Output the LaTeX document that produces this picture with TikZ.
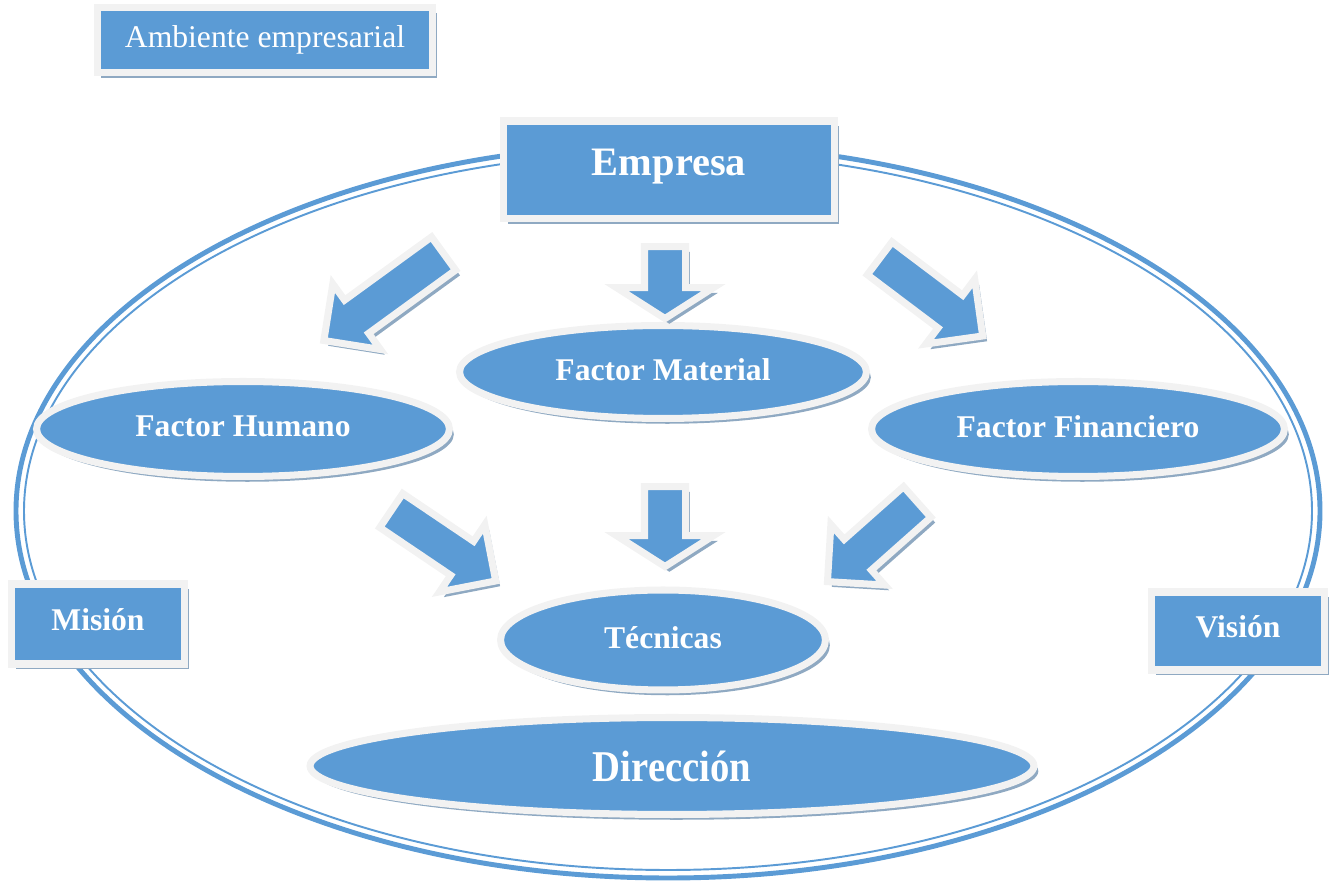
\documentclass[tikz,border=0pt]{standalone}
\usepackage{fontspec}
\setmainfont{Liberation Serif}
\usetikzlibrary{shapes.geometric}
\usetikzlibrary{shapes.arrows}
\usetikzlibrary{shadows}
\definecolor{azul}{HTML}{5B9BD5}
\definecolor{borde}{HTML}{F2F2F2}
\definecolor{sombra}{HTML}{8FA9C2}
\tikzstyle{base} = [fill=azul, draw=borde, line width=4pt, text=white, inner sep=0pt,
  drop shadow={shadow xshift=2.5pt, shadow yshift=-3pt, fill=sombra, opacity=1}]
\tikzstyle{caja} = [base, rectangle, font=\bfseries\fontsize{18}{20}\selectfont]
\tikzstyle{factor} = [base, ellipse, font=\bfseries\fontsize{18}{20}\selectfont]
\tikzstyle{flecha} = [base, single arrow, inner xsep=0pt, inner ysep=0.34cm, single arrow head extend=0.4cm]
\tikzstyle{flechav} = [flecha, inner ysep=0.34cm, single arrow head extend=0.56cm, single arrow tip angle=115]

\begin{document}
\begin{tikzpicture}[x=0.02cm, y=-0.02cm]
        \useasboundingbox (0,0) rectangle (1330,884);
        \draw[azul, line width=2.8pt] (668,511) ellipse [x radius=652, y radius=367];
        \draw[azul, line width=1.1pt] (668,511) ellipse [x radius=644, y radius=359];

        \node[caja, font=\fontsize{18}{20}\selectfont, minimum width=6.72cm, minimum height=1.3cm] (amb) at (265,40) {Ambiente empresarial};
        \node[caja, font=\bfseries\fontsize{23}{26}\selectfont, minimum width=6.62cm, minimum height=1.96cm] (emp) at (669,170) {\raisebox{9pt}{Empresa}};
        \node[caja, minimum width=3.46cm, minimum height=1.6cm] (mis) at (98,624) {\raisebox{5pt}{Misión}};
        \node[caja, minimum width=3.46cm, minimum height=1.56cm] (vis) at (1238,631) {\raisebox{5pt}{Visión}};

        \node[factor, minimum width=8.14cm, minimum height=1.86cm] (mat) at (663,372) {\raisebox{3pt}{Factor Material}};
        \node[factor, minimum width=8.26cm, minimum height=1.9cm] (hum) at (243,429) {\raisebox{3pt}{Factor Humano}};
        \node[factor, minimum width=8.26cm, minimum height=1.9cm] (fin) at (1078,429) {\raisebox{3pt}{Factor Financiero}};
        \node[factor, minimum width=6.5cm, minimum height=2cm] (tec) at (663,640) {\raisebox{3pt}{Técnicas}};
        \node[factor, font=\bfseries\fontsize{25}{28}\selectfont, minimum width=14.48cm, minimum height=1.94cm] (dir) at (672,766) {\scalebox{0.88}[1]{Dirección}};

        \node[flecha, rotate=216, minimum height=2.96cm] (f1) at (392,291) {};
        \node[flechav, rotate=270, minimum height=1.44cm] (f2) at (665,276) {};
        \node[flecha, rotate=-37, minimum height=2.58cm] (f3) at (923,291) {};
        \node[flecha, rotate=-34, minimum height=2.52cm] (f4) at (435,540) {};
        \node[flechav, rotate=270, minimum height=1.6cm] (f5) at (665,520) {};
        \node[flecha, rotate=221.6, minimum height=2.4cm] (f6) at (880,535) {};
    \end{tikzpicture}
\end{document}
